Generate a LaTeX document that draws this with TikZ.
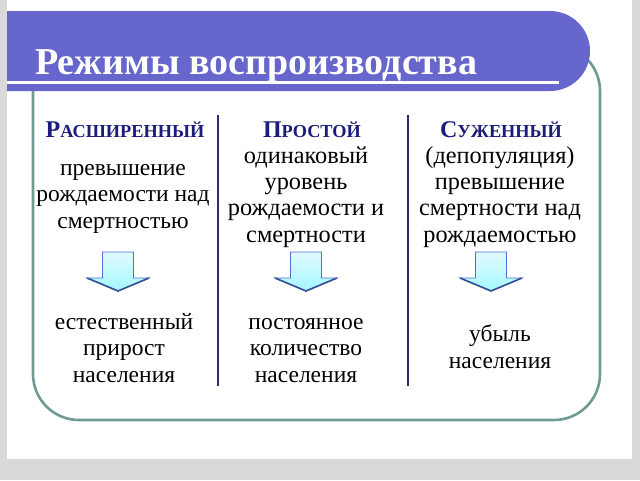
\documentclass[tikz,border=0pt]{standalone}
\usepackage{fontspec}
\setmainfont{Liberation Serif}
\definecolor{bannerc}{HTML}{6666CC}
\definecolor{framec}{HTML}{6E9C95}
\definecolor{headc}{HTML}{1C1C7C}
\definecolor{divc}{HTML}{2B2B6E}
\definecolor{arrfill}{HTML}{CDF6FF}
\definecolor{arrline}{HTML}{4E6FD6}
\definecolor{bgc}{HTML}{D9D9D9}
\tikzset{
  body/.style={align=center, font=\fontsize{23.5}{26.5}\selectfont, inner sep=0pt, text=black, anchor=base},
  bodyb/.style={body, font=\fontsize{24.3}{26.3}\selectfont},
  head/.style={font=\bfseries, text=headc, inner sep=0pt, anchor=base},
  divider/.style={draw=divc, line width=1.8pt},
  pics/dnarrow/.style={code={
    \path[top color=white!40!arrfill, bottom color=arrfill!80!cyan, draw=arrline, line width=0.9pt, line join=miter]
      (-15.5,0) -- (15.5,0) -- (15.5,26) -- (31,26) -- (0,39) -- (-31,26) -- (-15.5,26) -- cycle;
    \draw[arrline!70!black, line width=1.6pt] (-31,26) -- (0,39) -- (31,26);
  }}
}
\newcommand{\hsc}[2]{{\fontsize{24}{24}\selectfont #1}{\fontsize{18.3}{18.3}\selectfont #2}}
\begin{document}
\begin{tikzpicture}[x=1pt,y=-1pt]
\useasboundingbox (0,0) rectangle (640,480);
\fill[bgc] (0,0) rectangle (640,480);
\fill[white] (7,0) rectangle (632,459);
% frame
\draw[framec, line width=2.6pt, rounded corners=46pt] (33,45) rectangle (600,420);
% banner
\fill[bannerc] (7,11) -- (550,11) arc[start angle=90, end angle=-90, x radius=40, y radius=-40] -- (7,91) -- cycle;
\draw[white, line width=2.6pt] (7,82.5) -- (559,82.5);
\node[anchor=base west, inner sep=0pt, text=white, font=\fontsize{38}{38}\selectfont\bfseries] (title) at (35,74) {Режимы воспроизводства};
% dividers
\coordinate (d1t) at (218,115); \coordinate (d1b) at (218,386);
\coordinate (d2t) at (408,115); \coordinate (d2b) at (408,386);
\draw[divider] (d1t) -- (d1b);
\draw[divider] (d2t) -- (d2b);
% column 1
\node[head] (h1) at (125,137) {\hsc{Р}{АСШИРЕННЫЙ}};
\node[body] (c1a) at (123,228) {превышение\\рождаемости над\\смертностью};
\pic at (118,252) {dnarrow};
\node[body] (c1b) at (124,382) {естественный\\прирост\\населения};
% column 2
\node[head] (h2) at (312,137) {\hsc{П}{РОСТОЙ}};
\node[bodyb] (c2a) at (306,242) {одинаковый\\уровень\\рождаемости и\\смертности};
\pic at (306,252) {dnarrow};
\node[body] (c2b) at (306,382) {постоянное\\количество\\населения};
% column 3
\node[head] (h3) at (501,137) {\hsc{С}{УЖЕННЫЙ}};
\node[bodyb] (c3a) at (500,242) {(депопуляция)\\превышение\\смертности над\\рождаемостью};
\pic at (491,252) {dnarrow};
\node[body] (c3b) at (500,368) {убыль\\населения};
\end{tikzpicture}
\end{document}
